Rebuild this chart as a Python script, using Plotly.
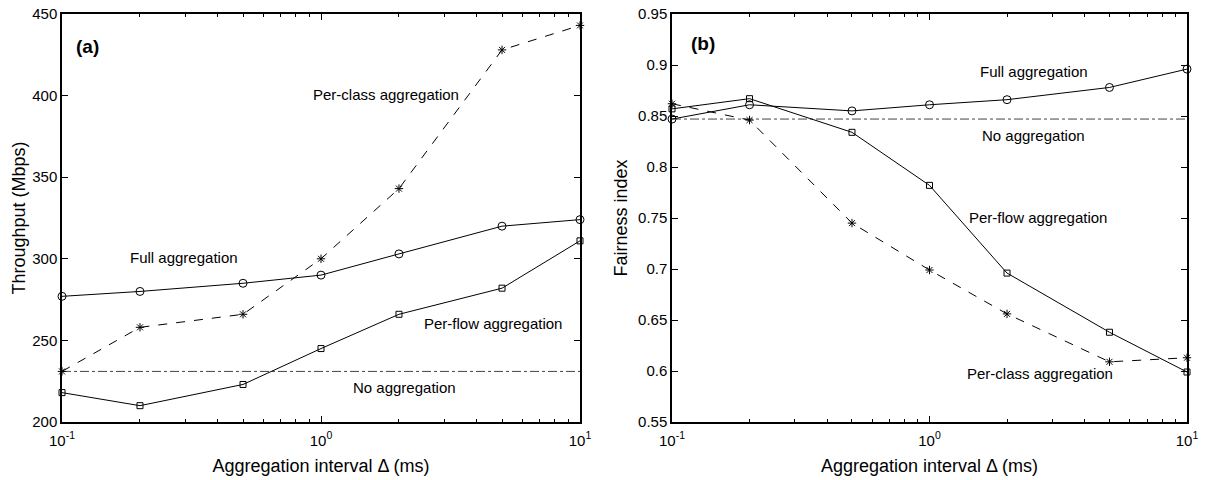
import plotly.graph_objects as go

# Aggregation interval (ms)
intervals = [0.1, 0.2, 0.5, 1, 2, 5, 10]

# (a) Throughput (Mbps)
thr_full = [277, 280, 285, 290, 303, 320, 324]
thr_per_class = [231, 258, 266, 300, 343, 428, 443]
thr_per_flow = [218, 210, 223, 245, 266, 282, 311]
thr_none = 231

# (b) Fairness index
fair_full = [0.847, 0.861, 0.855, 0.861, 0.866, 0.878, 0.896]
fair_per_class = [0.862, 0.846, 0.745, 0.699, 0.656, 0.609, 0.613]
fair_per_flow = [0.857, 0.867, 0.834, 0.782, 0.696, 0.638, 0.599]
fair_none = 0.847

x_tickvals = [0.1, 1, 10]
x_ticktext = ["10<sup>-1</sup>", "10<sup>0</sup>", "10<sup>1</sup>"]
x_minor = [0.2, 0.3, 0.4, 0.5, 0.6, 0.7, 0.8, 0.9, 2, 3, 4, 5, 6, 7, 8, 9]

thr_ticks = [200, 250, 300, 350, 400, 450]
fair_ticks = [0.55, 0.6, 0.65, 0.7, 0.75, 0.8, 0.85, 0.9, 0.95]
fair_ticktext = ["0.55", "0.6", "0.65", "0.7", "0.75", "0.8", "0.85", "0.9", "0.95"]

FONT = "Liberation Sans, Arial, Helvetica, sans-serif"
INK = "black"

fig = go.Figure()


def add_series(xa, ya, y, symbol, dash, size):
    fig.add_trace(go.Scatter(
        x=intervals, y=y, xaxis=xa, yaxis=ya, mode="lines+markers",
        line=dict(color=INK, width=1, dash=dash),
        marker=dict(symbol=symbol, size=size, color=INK, line=dict(width=1, color=INK)),
        showlegend=False, cliponaxis=False,
    ))


def add_flat(xa, ya, value):
    fig.add_trace(go.Scatter(
        x=[intervals[0], intervals[-1]], y=[value, value], xaxis=xa, yaxis=ya,
        mode="lines", line=dict(color="#444", width=1, dash="dashdot"),
        showlegend=False,
    ))


add_flat("x", "y", thr_none)
add_series("x", "y", thr_full, "circle-open", "solid", 8)
add_series("x", "y", thr_per_flow, "square-open", "solid", 6)
add_series("x", "y", thr_per_class, "asterisk-open", "dash", 7)

add_flat("x2", "y2", fair_none)
add_series("x2", "y2", fair_full, "circle-open", "solid", 8)
add_series("x2", "y2", fair_per_flow, "square-open", "solid", 6)
add_series("x2", "y2", fair_per_class, "asterisk-open", "dash", 7)

TICK_FONT = dict(size=15, color=INK, family=FONT)
TITLE_FONT = dict(size=18, color=INK, family=FONT)

xcommon = dict(
    type="log", range=[-1, 1], tickvals=x_tickvals, ticktext=x_ticktext,
    ticks="inside", ticklen=6, tickcolor=INK, showline=True, linecolor=INK,
    linewidth=1.5, mirror="ticks", showgrid=False, zeroline=False, automargin=False,
    minor=dict(tickvals=x_minor, ticks="inside", ticklen=3, tickcolor=INK, showgrid=False),
    tickfont=TICK_FONT, ticklabelstandoff=4,
    title=dict(text="Aggregation interval Δ (ms)", font=TITLE_FONT, standoff=12),
)
ycommon = dict(
    ticks="inside", ticklen=6, tickcolor=INK, showline=True, linecolor=INK,
    linewidth=1.5, mirror="ticks", showgrid=False, zeroline=False, automargin=False,
    tickfont=TICK_FONT,
)

fig.update_layout(
    width=1213, height=480,
    margin=dict(l=0, r=0, t=14, b=58),
    paper_bgcolor="white", plot_bgcolor="white",
    font=dict(family=FONT, color=INK),
    xaxis=dict(domain=[62 / 1213, 580 / 1213], anchor="y", **xcommon),
    yaxis=dict(domain=[0, 1], anchor="x", range=[200, 450], tickvals=thr_ticks,
               title=dict(text="Throughput (Mbps)", font=TITLE_FONT, standoff=2),
               **ycommon),
    xaxis2=dict(domain=[672 / 1213, 1187 / 1213], anchor="y2", **xcommon),
    yaxis2=dict(domain=[0, 1], anchor="x2", range=[0.55, 0.95], tickvals=fair_ticks,
                ticktext=fair_ticktext,
                title=dict(text="Fairness index", font=TITLE_FONT, standoff=6),
                **ycommon),
)

# Curve labels; x positions are in log10 units of the interval
label_font = dict(size=15, color=INK, family=FONT)
labels_a = [
    ("Per-class aggregation", 0.251, 400.5),
    ("Full aggregation", -0.529, 301),
    ("Per-flow aggregation", 0.664, 260.5),
    ("No aggregation", 0.324, 221.4),
]
labels_b = [
    ("Full aggregation", 0.406, 0.8935),
    ("No aggregation", 0.402, 0.8305),
    ("Per-flow aggregation", 0.421, 0.7507),
    ("Per-class aggregation", 0.429, 0.598),
]
for text, lx, ly in labels_a:
    fig.add_annotation(x=lx, y=ly, xref="x", yref="y", text=text, showarrow=False, font=label_font)
for text, lx, ly in labels_b:
    fig.add_annotation(x=lx, y=ly, xref="x2", yref="y2", text=text, showarrow=False, font=label_font)

fig.add_annotation(x=-0.90, y=430, xref="x", yref="y", text="<b>(a)</b>", showarrow=False,
                   font=dict(size=19, color=INK, family=FONT))
fig.add_annotation(x=-0.88, y=0.921, xref="x2", yref="y2", text="<b>(b)</b>", showarrow=False,
                   font=dict(size=19, color=INK, family=FONT))

fig.write_html("out.html")
